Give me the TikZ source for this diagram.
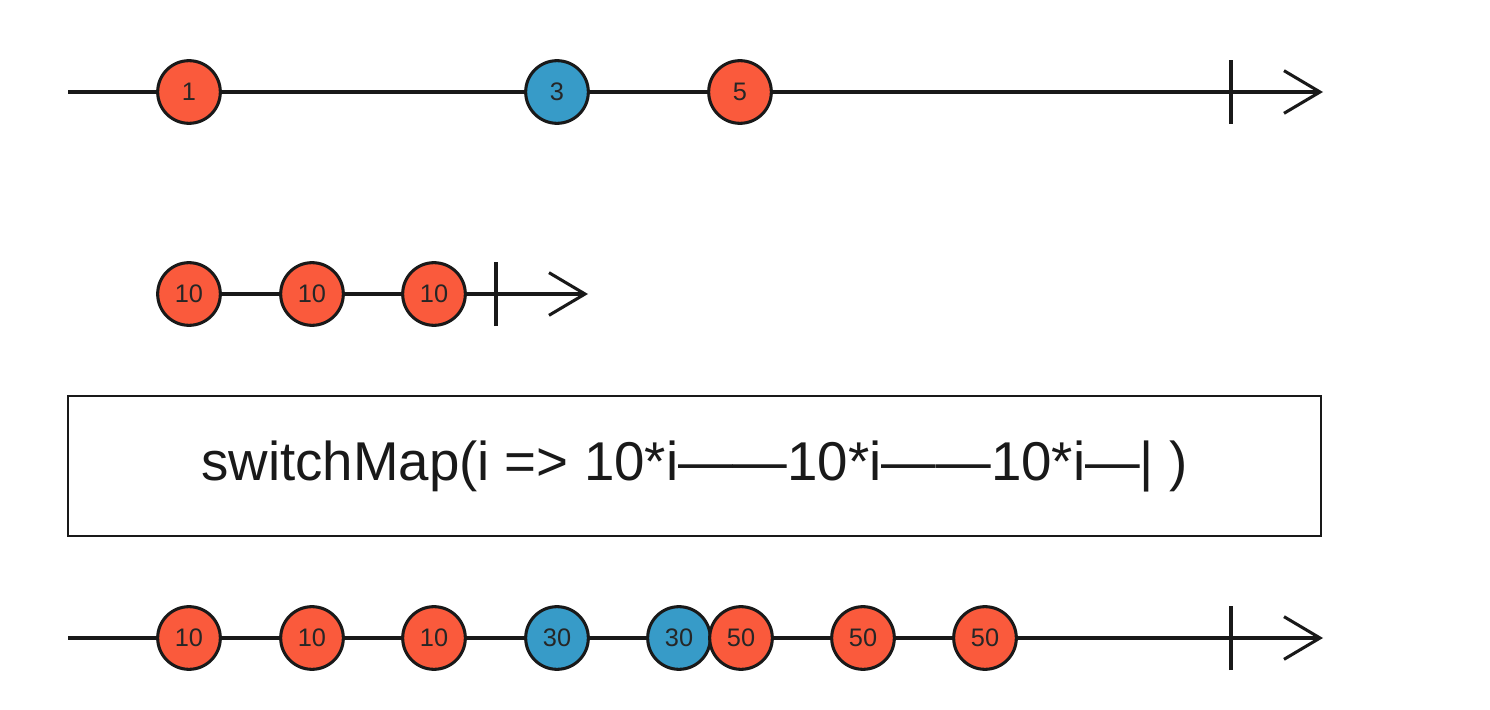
\documentclass[tikz,border=0pt]{standalone}
\usepackage{fontspec}
\setmainfont{Liberation Sans}
\usetikzlibrary{arrows.meta}

\definecolor{marbleRed}{RGB}{250,90,60}
\definecolor{marbleBlue}{RGB}{55,155,200}

\tikzset{every picture/.style={line width=0.75pt}}
\tikzset{
  marble/.style={circle, draw=black!90, line width=2.3pt, minimum size=47pt, inner sep=0pt,
    text=black!85, font=\fontsize{19}{19}\selectfont},
  redmarble/.style={marble, fill=marbleRed},
  bluemarble/.style={marble, fill=marbleBlue},
  timeline/.style={line width=2.3pt, black!90, -{Straight Barb[length=27pt,width=32pt,line width=2.3pt]}},
  endtick/.style={line width=2.3pt, black!90},
}

\begin{document}
\begin{tikzpicture}[x=0.75pt,y=0.75pt,yscale=-1,xscale=1]
\useasboundingbox (0,0) rectangle (1490,710);

%Source timeline
\coordinate (srcStart) at (68,92);
\coordinate (srcEnd) at (1323,92);
\coordinate (srcDone) at (1231,92);
\draw [timeline] (srcStart) -- (srcEnd);
\draw [endtick] ([yshift=24pt]srcDone) -- ([yshift=-24pt]srcDone);

\node [redmarble] (src1) at (189,92) {1};
\node [bluemarble] (src3) at (557,92) {3};
\node [redmarble] (src5) at (740,92) {5};

%Inner timeline
\coordinate (innEnd) at (588,294);
\coordinate (innDone) at (496,294);
\draw [timeline] (189,294) coordinate (innStart) -- (innEnd);
\draw [endtick] ([yshift=24pt]innDone) -- ([yshift=-24pt]innDone);

\node [redmarble] (inn1) at (189,294) {10};
\node [redmarble] (inn2) at (312,294) {10};
\node [redmarble] (inn3) at (434,294) {10};

%Operator box
\node [draw, line width=1.8pt, black!90, minimum width=940pt, minimum height=105pt, inner sep=0pt,
  text=black!90, font=\fontsize{41}{46}\selectfont] (op) at (694.5,466) {switchMap(i => 10*i——10*i——10*i—| )};

%Result timeline
\coordinate (resStart) at (68,638);
\coordinate (resEnd) at (1323,638);
\coordinate (resDone) at (1231,638);
\draw [timeline] (resStart) -- (resEnd);
\draw [endtick] ([yshift=24pt]resDone) -- ([yshift=-24pt]resDone);

\node [redmarble] (res1) at (189,638) {10};
\node [redmarble] (res2) at (312,638) {10};
\node [redmarble] (res3) at (434,638) {10};
\node [bluemarble] (res4) at (557,638) {30};
\node [bluemarble] (res5) at (679,638) {30};
\node [redmarble] (res6) at (741,638) {50};
\node [redmarble] (res7) at (863,638) {50};
\node [redmarble] (res8) at (985,638) {50};

\end{tikzpicture}
\end{document}
